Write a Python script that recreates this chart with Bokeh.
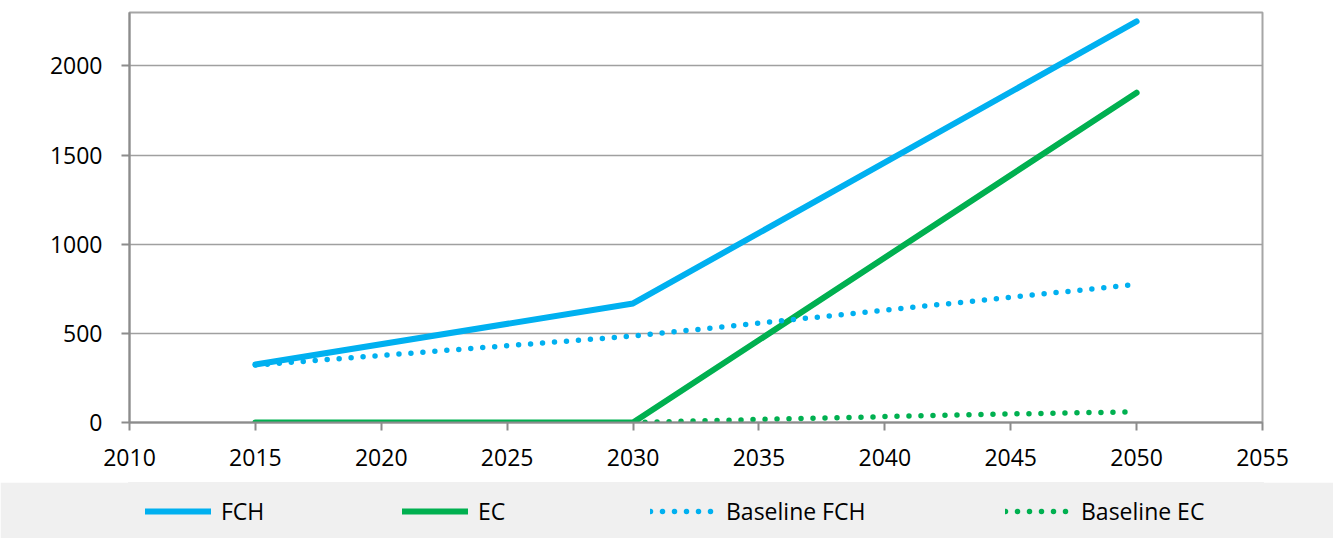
from bokeh.plotting import figure
from bokeh.models import Range1d, SingleIntervalTicker, FixedTicker, Legend, LegendItem
from bokeh.layouts import column
from bokeh.embed import file_html
from bokeh.resources import INLINE

# ---- data ----
years_fch = [2015, 2030, 2050]
fch = [325, 668, 2250]
years_ec = [2015, 2030, 2050]
ec = [0, 0, 1850]
years_base_fch = [2015, 2030, 2050]
base_fch = [322, 485, 775]
years_base_ec = [2030, 2035, 2040, 2045, 2050]
base_ec = [0, 17, 33, 48, 60]
x_ticks_interval = 5
y_ticks = [0, 500, 1000, 1500, 2000]
series_names = ["FCH", "EC", "Baseline FCH", "Baseline EC"]

BLUE = "#00B0F0"
GREEN = "#00B050"
BAND = "#f0f0f0"
FONT = "Open Sans"
W = 1333

p = figure(width=W, height=482, output_backend="svg", toolbar_location=None,
           x_range=Range1d(2010, 2055), y_range=Range1d(0, 2300),
           min_border_left=129, min_border_right=71, min_border_top=12, min_border_bottom=60)

p.xgrid.visible = False
p.ygrid.grid_line_color = "#a0a0a0"
p.ygrid.grid_line_width = 1.5
p.ygrid.ticker = FixedTicker(ticks=y_ticks)
p.outline_line_color = "#a6a6a6"
p.outline_line_width = 2

p.xaxis.ticker = SingleIntervalTicker(interval=x_ticks_interval, num_minor_ticks=0)
p.yaxis.ticker = FixedTicker(ticks=y_ticks)
for ax in (p.xaxis[0], p.yaxis[0]):
    ax.axis_line_color = "#8c8c8c"
    ax.axis_line_width = 2
    ax.major_tick_line_color = "#8c8c8c"
    ax.major_tick_line_width = 2
    ax.major_tick_in = 0
    ax.major_tick_out = 8
    ax.minor_tick_line_color = None
    ax.major_label_text_font = FONT
    ax.major_label_text_font_size = "23px"
    ax.major_label_text_color = "#000000"
p.yaxis.major_label_standoff = 19
p.xaxis.major_label_standoff = 18

solid = dict(line_width=6, line_cap="round", line_join="round")
dotted = dict(line_width=5.5, line_cap="round", line_dash="0 12")

r1 = p.line(years_fch, fch, line_color=BLUE, **solid)
r2 = p.line(years_ec, ec, line_color=GREEN, **solid)
r3 = p.line(years_base_fch, base_fch, line_color=BLUE, **dotted)
r4 = p.line(years_base_ec, base_ec, line_color=GREEN, **dotted)

# ---- legend band ----
lg = figure(width=W, height=56, output_backend="svg", toolbar_location=None,
            x_axis_type=None, y_axis_type=None,
            min_border_left=129, min_border_right=71, min_border_top=0, min_border_bottom=0,
            x_range=Range1d(0, 1), y_range=Range1d(0, 1))
lg.grid.visible = False
lg.outline_line_color = BAND
lg.outline_line_width = 3
lg.background_fill_color = BAND
lg.border_fill_color = BAND

nan = float("nan")
l1 = lg.line([nan], [nan], line_color=BLUE, **solid)
l2 = lg.line([nan], [nan], line_color=GREEN, **solid)
l3 = lg.line([nan], [nan], line_color=BLUE, **dotted)
l4 = lg.line([nan], [nan], line_color=GREEN, **dotted)

legend_x = [16, 273, 521, 876]
for name, rend, lx in zip(series_names, [l1, l2, l3, l4], legend_x):
    legend = Legend(items=[LegendItem(label=name, renderers=[rend])],
                    orientation="horizontal", location=(lx, 11),
                    background_fill_alpha=0, border_line_color=None,
                    padding=0, margin=0, glyph_width=66, label_standoff=10,
                    label_text_font=FONT, label_text_font_size="23px",
                    label_text_color="#000000")
    lg.add_layout(legend, "center")

layout = column(p, lg, spacing=0)
open("out.html", "w").write(file_html(layout, INLINE))
